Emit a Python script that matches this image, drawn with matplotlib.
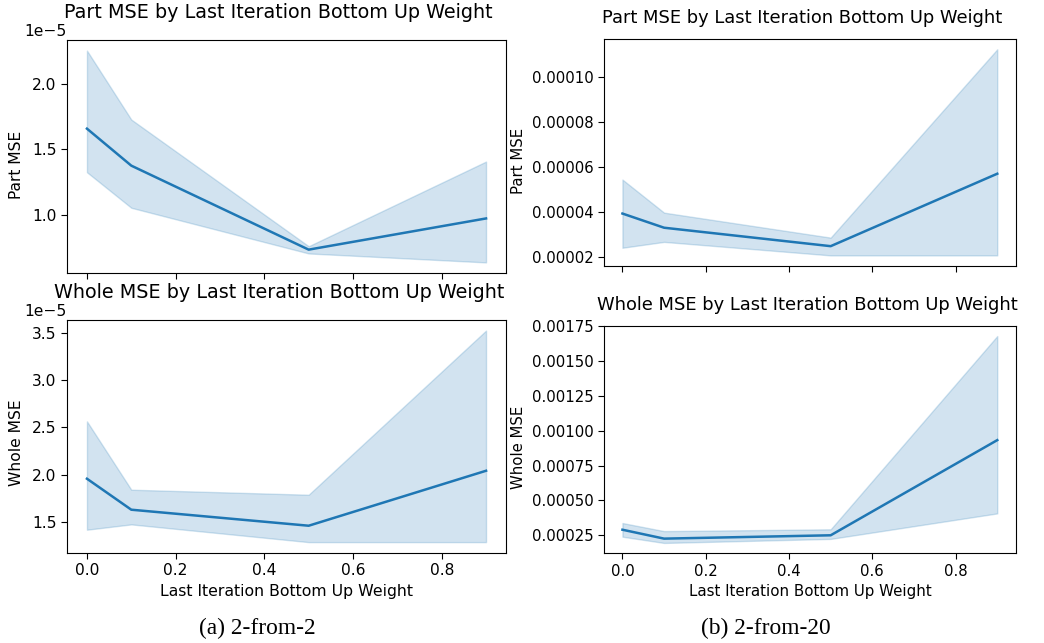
import numpy as np
import matplotlib
matplotlib.use("Agg")
import matplotlib.pyplot as plt

# ── Data ───────────────────────────────────────────────────────
weights = [0.0, 0.1, 0.5, 0.9]

# (a) 2-from-2
a_part_mean = [1.657e-5, 1.376e-5, 0.738e-5, 0.975e-5]
a_part_hi   = [2.250e-5, 1.726e-5, 0.764e-5, 1.407e-5]
a_part_lo   = [1.326e-5, 1.056e-5, 0.709e-5, 0.641e-5]

a_whole_mean = [1.958e-5, 1.631e-5, 1.462e-5, 2.042e-5]
a_whole_hi   = [2.563e-5, 1.842e-5, 1.789e-5, 3.521e-5]
a_whole_lo   = [1.420e-5, 1.476e-5, 1.289e-5, 1.289e-5]

# (b) 2-from-20
b_part_mean = [3.95e-5, 3.32e-5, 2.50e-5, 5.72e-5]
b_part_hi   = [5.46e-5, 3.99e-5, 2.88e-5, 11.25e-5]
b_part_lo   = [2.43e-5, 2.69e-5, 2.09e-5, 2.09e-5]

b_whole_mean = [0.000290, 0.000226, 0.000250, 0.000933]
b_whole_hi   = [0.000338, 0.000280, 0.000293, 0.001680]
b_whole_lo   = [0.000240, 0.000195, 0.000224, 0.000407]

LINE = "#1f77b4"
W, H = 1044, 643

# font sizes for the two (differently scaled) sub-figures
FS_A, FS_B = 11.2, 10.75
TITLE_A, TITLE_B = 13.8, 12.9

plt.rcParams["font.family"] = "DejaVu Sans"

fig = plt.figure(figsize=(W / 100, H / 100), dpi=100)


def px_rect(x0, y0, x1, y1):
    return [x0 / W, 1 - y1 / H, (x1 - x0) / W, (y1 - y0) / H]


def px(x, y):
    return x / W, 1 - y / H


def draw(ax, mean, lo, hi, tick_fs):
    ax.fill_between(weights, lo, hi, color=LINE, alpha=0.2, lw=1)
    ax.plot(weights, mean, color=LINE, lw=1.8)
    ax.set_xticks([0.0, 0.2, 0.4, 0.6, 0.8])
    ax.tick_params(labelsize=tick_fs, length=4)
    ax.yaxis.get_offset_text().set_fontsize(tick_fs)
    ax.yaxis.get_offset_text().set_horizontalalignment("right")


ax_lt = fig.add_axes(px_rect(67, 40, 506, 273))
ax_lb = fig.add_axes(px_rect(67, 320, 506, 552.7))
ax_rt = fig.add_axes(px_rect(603.7, 39, 1016, 265.7))
ax_rb = fig.add_axes(px_rect(603.7, 325.7, 1016, 553.3))

draw(ax_lt, a_part_mean, a_part_lo, a_part_hi, FS_A)
draw(ax_lb, a_whole_mean, a_whole_lo, a_whole_hi, FS_A)
draw(ax_rt, b_part_mean, b_part_lo, b_part_hi, FS_B)
draw(ax_rb, b_whole_mean, b_whole_lo, b_whole_hi, FS_B)

ax_lt.set_xticklabels([])
ax_rt.set_xticklabels([])
ax_lt.set_yticks([1.0e-5, 1.5e-5, 2.0e-5])
ax_lb.set_yticks([1.5e-5, 2.0e-5, 2.5e-5, 3.0e-5, 3.5e-5])
ax_rt.set_yticks([0.00002, 0.00004, 0.00006, 0.00008, 0.00010])
ax_rt.yaxis.set_major_formatter(matplotlib.ticker.FormatStrFormatter("%.5f"))
ax_rb.set_yticks([0.00025, 0.0005, 0.00075, 0.001, 0.00125, 0.0015, 0.00175])
ax_rb.yaxis.set_major_formatter(matplotlib.ticker.FormatStrFormatter("%.5f"))

# titles
fig.text(*px(278, 18), "Part MSE by Last Iteration Bottom Up Weight",
         ha="center", va="baseline", fontsize=TITLE_A)
fig.text(*px(279.5, 298), "Whole MSE by Last Iteration Bottom Up Weight",
         ha="center", va="baseline", fontsize=TITLE_A)
fig.text(*px(802, 23), "Part MSE by Last Iteration Bottom Up Weight",
         ha="center", va="baseline", fontsize=TITLE_B)
fig.text(*px(807.5, 310), "Whole MSE by Last Iteration Bottom Up Weight",
         ha="center", va="baseline", fontsize=TITLE_B)

# axis labels
fig.text(*px(16.7, 165), "Part MSE", rotation=90, ha="center", va="center", fontsize=FS_A)
fig.text(*px(16.7, 443), "Whole MSE", rotation=90, ha="center", va="center", fontsize=FS_A)
fig.text(*px(518.3, 161), "Part MSE", rotation=90, ha="center", va="center", fontsize=FS_B)
fig.text(*px(518.3, 447), "Whole MSE", rotation=90, ha="center", va="center", fontsize=FS_B)
fig.text(*px(286.5, 591.7), "Last Iteration Bottom Up Weight",
         ha="center", va="center", fontsize=11.3)
fig.text(*px(810, 591.7), "Last Iteration Bottom Up Weight",
         ha="center", va="center", fontsize=10.8)

# captions
fig.text(*px(257, 628), "(a) 2-from-2", ha="center", va="center",
         fontsize=16.8, family="Liberation Serif")
fig.text(*px(766, 628), "(b) 2-from-20", ha="center", va="center",
         fontsize=16.8, family="Liberation Serif")

fig.savefig("out.png", dpi=100)
